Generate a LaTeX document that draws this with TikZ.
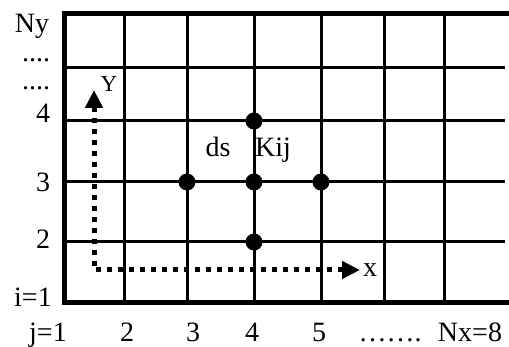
\documentclass[tikz,border=0pt]{standalone}
\usepackage{fontspec}
\setmainfont{Liberation Serif}
\usetikzlibrary{arrows.meta}
\begin{document}
\begin{tikzpicture}[x=1pt,y=-1pt,
  lbl/.style={font=\fontsize{28}{30}\selectfont, inner sep=0pt, anchor=base},
  smalllbl/.style={font=\fontsize{23}{25}\selectfont, inner sep=0pt, anchor=base},
  gridline/.style={line width=3pt},
  border/.style={line width=5pt},
  dot/.style={circle, fill=black, minimum size=17pt, inner sep=0pt},
  axis/.style={line width=5pt, dash pattern=on 5pt off 6pt,
    {Triangle[length=18pt,width=17pt]}-{Triangle[length=18pt,width=17pt]}}]
\useasboundingbox (0,0) rectangle (509,347);
% interior grid lines
\foreach \x in {124,187,254,321,384,444}
  \draw[gridline] (\x,14) -- (\x,303);
\foreach \y in {68,121,182,242}
  \draw[gridline] (64,\y) -- (505,\y);
% borders
\draw[border] (509,14) -- (64,14) -- (64,303) -- (509,303);
% axes
\coordinate (ytip) at (94,90);
\coordinate (xtip) at (360,270);
\draw[axis] (ytip) |- (xtip);
\node[smalllbl] (ylab) at (109,92) {Y};
\node[lbl] (xlab) at (370,277) {x};
% dots
\node[dot] (d1) at (254,121) {};
\node[dot] (d2) at (187,182) {};
\node[dot] (d3) at (254,182) {};
\node[dot] (d4) at (321,182) {};
\node[dot] (d5) at (254,242) {};
% inner labels
\node[lbl] (ds) at (218,157) {ds};
\node[lbl] (kij) at (273,157) {Kij};
% left labels
\node[lbl] (ny) at (32,33) {Ny};
\node[lbl] (ld1) at (36,62) {....};
\node[lbl] (ld2) at (36,90) {....};
\node[lbl] (l4) at (43,123) {4};
\node[lbl] (l3) at (43,192) {3};
\node[lbl] (l2) at (43,249) {2};
\node[lbl] (li) at (33,307) {i=1};
% bottom labels
\node[lbl] (bj) at (48,342) {j=1};
\node[lbl] (b2) at (127,342) {2};
\node[lbl] (b3) at (193,342) {3};
\node[lbl] (b4) at (252,342) {4};
\node[lbl] (b5) at (319,342) {5};
\node[lbl] (bd) at (390,342) {…….};
\node[lbl] (bn) at (470,342) {Nx=8};
\end{tikzpicture}
\end{document}
